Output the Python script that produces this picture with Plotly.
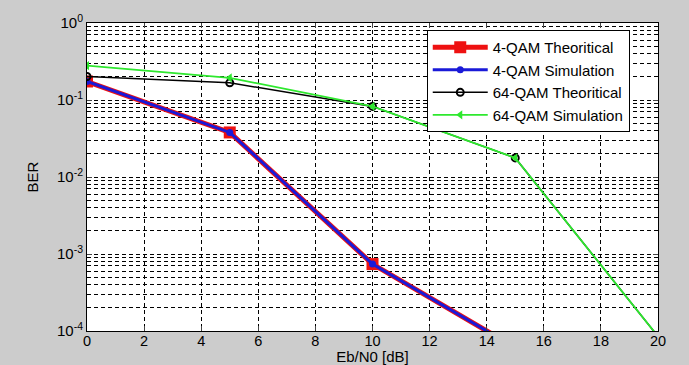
import plotly.graph_objects as go

ebn0 = [0, 5, 10, 15, 20]
qam4_theory = [0.174, 0.0379, 7.4e-4, 6.3e-5, 5.0e-6]
qam4_sim = [0.174, 0.0379, 7.4e-4, 6.3e-5, 5.0e-6]
qam64_theory = [0.202, 0.167, 0.0826, 0.0177, 8.5e-5]
qam64_sim = [0.28, 0.194, 0.0826, 0.0177, 8.5e-5]

ytick_vals = [1e-4, 1e-3, 1e-2, 1e-1, 1]
ytick_text = ["10<sup>-4</sup>", "10<sup>-3</sup>", "10<sup>-2</sup>", "10<sup>-1</sup>", "10<sup>0</sup>"]
xtick_vals = [0, 2, 4, 6, 8, 10, 12, 14, 16, 18, 20]

fig = go.Figure()
fig.add_trace(go.Scatter(x=ebn0, y=qam4_theory, name="4-QAM Theoritical", mode="lines+markers",
                         line=dict(color="#ee1111", width=5),
                         marker=dict(symbol="square", size=12, color="#ee1111")))
fig.add_trace(go.Scatter(x=ebn0, y=qam4_sim, name="4-QAM Simulation", mode="lines+markers",
                         line=dict(color="#1a1ad8", width=3),
                         marker=dict(symbol="circle", size=7, color="#1a1ad8")))
fig.add_trace(go.Scatter(x=ebn0, y=qam64_theory, name="64-QAM Theoritical", mode="lines+markers",
                         line=dict(color="black", width=1.5),
                         marker=dict(symbol="circle-open", size=7, color="black", line=dict(width=2))))
fig.add_trace(go.Scatter(x=ebn0, y=qam64_sim, name="64-QAM Simulation", mode="lines+markers",
                         line=dict(color="#2ee82e", width=1.8),
                         marker=dict(symbol="triangle-left", size=8, color="#2ee82e")))

grid = dict(showgrid=True, gridcolor="black", gridwidth=1, griddash="4px,3px")

fig.update_layout(
    width=689, height=365,
    margin=dict(l=87, r=31, t=23, b=34),
    paper_bgcolor="#cccccc", plot_bgcolor="white",
    font=dict(family="Liberation Sans, Arial, sans-serif", size=15, color="black"),
    showlegend=True,
    legend=dict(x=0.595, y=0.977, xanchor="left", yanchor="top",
                bgcolor="white", bordercolor="black", borderwidth=1,
                font=dict(size=15), itemwidth=55, tracegroupgap=0),
)
fig.update_xaxes(range=[0, 20], tickvals=xtick_vals, ticks="inside", ticklen=5,
                 showline=True, linecolor="black", linewidth=1, mirror="ticks",
                 automargin=False, ticklabelstandoff=-3,
                 tickfont=dict(size=14.5),
                 title=dict(text="Eb/N0 [dB]", standoff=0, font=dict(size=15)),
                 zeroline=False, **grid)
fig.update_yaxes(type="log", range=[-4, 0], tickvals=ytick_vals, ticktext=ytick_text,
                 ticks="inside", ticklen=5,
                 showline=True, linecolor="black", linewidth=1, mirror="ticks",
                 automargin=False,
                 title=dict(text="BER", standoff=14, font=dict(size=15)),
                 minor=dict(showgrid=True, gridcolor="black", gridwidth=1, griddash="4px,3px",
                            tickvals=[m * 10 ** e for e in range(-4, 0) for m in range(2, 10)]),
                 zeroline=False, **grid)

fig.write_html("out.html", config={"displayModeBar": False},
               post_script="document.body.style.margin='0';document.body.style.background='#cccccc';")
